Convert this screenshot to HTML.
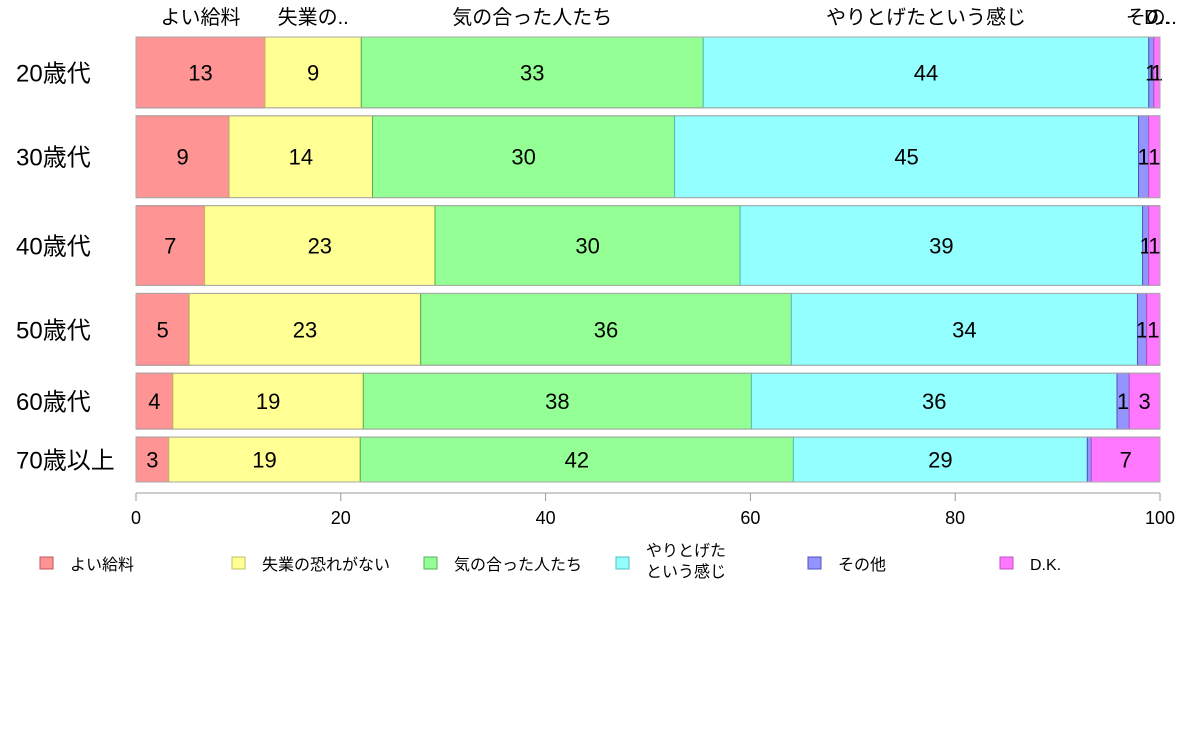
<!DOCTYPE html>
<html><head><meta charset="utf-8">
<style>
body{margin:0;background:#fff;}
svg text{font-family:"Liberation Sans","Noto Sans CJK JP",sans-serif;fill:#000;}
</style></head>
<body>
<svg id="chart" width="1188" height="736" viewBox="0 0 1188 736" xmlns="http://www.w3.org/2000/svg"></svg>
<script>
const groups = ["20歳代","30歳代","40歳代","50歳代","60歳代","70歳以上"];
const groupWeights = [71,82,80,72,56,45];
const seriesNames = ["よい給料","失業の恐れがない","気の合った人たち","やりとげた\nという感じ","その他","D.K."];
const topLabels = ["よい給料","失業の..","気の合った人たち","やりとげたという感じ","その..","D.."];
const sGoodPay = [12.6,9.1,6.7,5.2,3.6,3.2];
const sJobSecurity = [9.4,14.0,22.5,22.6,18.6,18.7];
const sGoodPeople = [33.4,29.5,29.8,36.2,37.9,42.3];
const sAccomplish = [43.5,45.3,39.3,33.8,35.7,28.7];
const sOther = [0.5,1.0,0.6,0.9,1.2,0.4];
const sDK = [0.6,1.1,1.1,1.3,3.0,6.7];
const xTicks = [0,20,40,60,80,100];
const series = [sGoodPay,sJobSecurity,sGoodPeople,sAccomplish,sOther,sDK];
const fills = ["#FF9494","#FFFF94","#94FF94","#94FFFF","#9494FF","#FF78FF"];
const strokes = ["#C05060","#C0C060","#50B050","#50C0C0","#5050C0","#C050C0"];
const keys = ["good-pay","job-security","good-people","accomplishment","other","dk"];

const svg = document.getElementById('chart');
const NS = "http://www.w3.org/2000/svg";
const X0 = 136, X1 = 1160, Y0 = 37, Y1 = 482, GAP = 8;
const xs = v => X0 + (X1 - X0) * v / 100;
function mk(tag, attrs, parent){const e=document.createElementNS(NS,tag);for(const k in attrs)e.setAttribute(k,attrs[k]);(parent||svg).appendChild(e);return e;}

const totalW = groupWeights.reduce((a,b)=>a+b,0);
const avail = (Y1 - Y0) - GAP*(groups.length-1);
let y = Y0;
groups.forEach((g,i)=>{
  const h = avail * groupWeights[i] / totalW;
  const row = mk('g',{});
  
  
  const tot = series.reduce((a,s)=>a+s[i],0);
  let cum = 0;
  series.forEach((s,j)=>{
    const v = s[i]*100/tot;
    const xa = xs(cum), xb = xs(cum+v);
    const r = mk('rect',{x:xa,y:y,width:Math.max(xb-xa,0.5),height:h,fill:fills[j],stroke:strokes[j],'stroke-width':1},row);
    
    
    const lab = Math.round(s[i]);
    if(lab>=1){
      const t = mk('text',{x:(xa+xb)/2,y:y+h/2+8,'text-anchor':'middle','font-size':22},row);
      t.textContent = lab;
      
      
    }
    if(i===0){
      const tl = mk('text',{x:(xa+xb)/2,y:24,'text-anchor':'middle','font-size':20});
      tl.textContent = topLabels[j];
      
      
    }
    cum += v;
  });
  const o = mk('rect',{x:X0,y:y,width:X1-X0,height:h,fill:'none',stroke:'#aaa','stroke-width':1},row);
  
  
  const gl = mk('text',{x:16,y:y+h/2+9,'font-size':24});
  gl.textContent = g;
  
  
  y += h + GAP;
});

const ax = mk('line',{x1:X0,x2:X1,y1:493,y2:493,stroke:'#999','stroke-width':1});


xTicks.forEach(t=>{
  const l = mk('line',{x1:xs(t),x2:xs(t),y1:493,y2:501,stroke:'#999','stroke-width':1});
  
  
  const tx = mk('text',{x:xs(t),y:524,'text-anchor':'middle','font-size':18});
  tx.textContent = t;
  
  
});

seriesNames.forEach((n,j)=>{
  const lx = 40 + 192*j;
  const g = mk('g',{});
  
  
  mk('rect',{x:lx,y:557,width:13,height:12,fill:fills[j],stroke:strokes[j]},g);
  const lines = n.split('\n');
  lines.forEach((ln,k)=>{
    const t = mk('text',{x:lx+30,y:(lines.length>1?556:570)+k*21,'font-size':16},g);
    t.textContent = ln;
  });
});
</script>
</body></html>
